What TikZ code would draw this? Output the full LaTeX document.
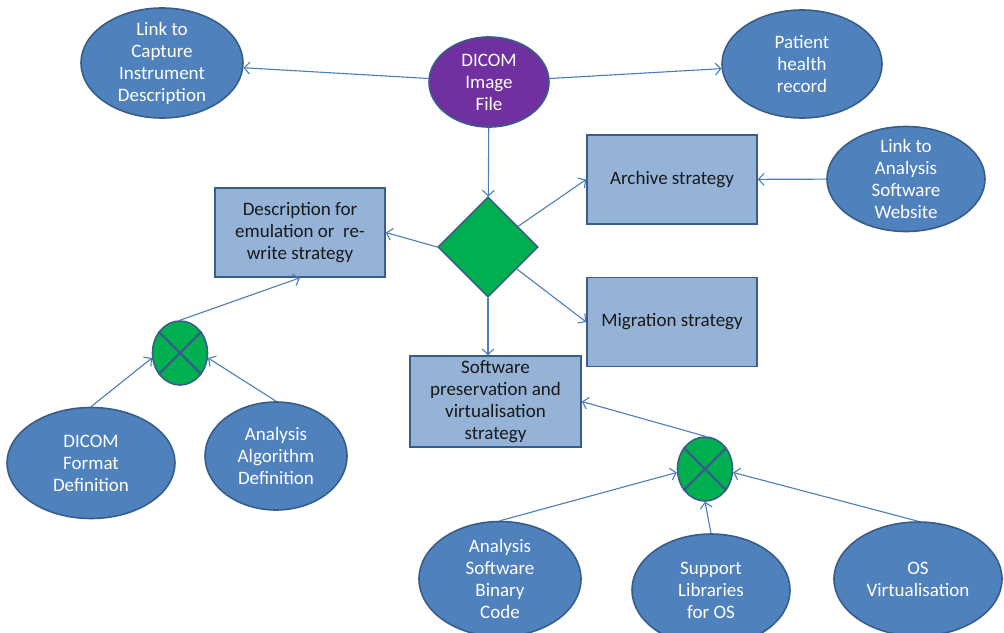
\documentclass[tikz,border=0pt]{standalone}
\usepackage{fontspec}
\setmainfont{Carlito}
\usetikzlibrary{shapes.geometric,arrows.meta}
\definecolor{ovalblue}{HTML}{4F81BD}
\definecolor{edgeblue}{HTML}{385D8A}
\definecolor{boxblue}{HTML}{95B3D7}
\definecolor{linkblue}{HTML}{4A7EBB}
\definecolor{dicompurple}{HTML}{7030A0}
\definecolor{okgreen}{HTML}{00B050}

\begin{document}
\begin{tikzpicture}[x=1pt, y=-1pt,
    oval/.style={draw=edgeblue, line width=1.6pt, fill=ovalblue, ellipse, inner xsep=0pt, inner ysep=-8pt, align=center, text=white, font=\fontsize{19}{22}\selectfont},
    box/.style={draw=edgeblue, line width=1.6pt, fill=boxblue, rectangle, minimum width=170pt, minimum height=89pt, align=center, text=black!90, font=\fontsize{19}{22}\selectfont},
    xcirc/.style={draw=edgeblue, line width=1.6pt, fill=okgreen, ellipse, minimum width=55pt, minimum height=64pt, inner sep=0pt},
    xline/.style={draw=edgeblue, line width=2.4pt},
    arrow/.style={-{Straight Barb[length=5.5pt,width=12pt]}, draw=linkblue, line width=1.1pt}
]
    \useasboundingbox (0,0) rectangle (1004,632);

    % Image file
    \node[oval, fill=dicompurple, minimum width=120pt, minimum height=90pt] (dicom) at (489,82) {DICOM\\Image\\File};

    % Links and records
    \node[oval, minimum width=162pt, minimum height=110pt] (capture) at (162,63) {Link to\\Capture\\Instrument\\Description};
    \node[oval, minimum width=160pt, minimum height=108pt] (patient) at (802,64) {Patient\\health\\record};
    \node[oval, minimum width=158pt, minimum height=105pt] (website) at (906,179) {Link to\\Analysis\\Software\\Website};

    % Decision
    \node[diamond, draw=edgeblue, line width=1.6pt, fill=okgreen, minimum width=100pt, minimum height=100pt, inner sep=0pt] (diam) at (488,247) {};

    % Strategies
    \node[box] (archive) at (672,179.5) {Archive strategy};
    \node[box] (desc) at (300,232.5) {Description for\\emulation or\ \ re-\\write strategy};
    \node[box] (migr) at (672,322) {Migration strategy};
    \node[box, minimum width=171pt, minimum height=91pt] (softw) at (495.5,401.5) {Software\\preservation and\\virtualisation\\strategy};

    % Combinations
    \node[xcirc] (crossL) at (180,353) {};
    \draw[xline] (crossL.45) -- (crossL.225) (crossL.135) -- (crossL.315);
    \node[xcirc] (crossR) at (705,469) {};
    \draw[xline] (crossR.45) -- (crossR.225) (crossR.135) -- (crossR.315);

    % Definitions
    \node[oval, minimum width=168pt, minimum height=111pt] (fmt) at (91,463) {DICOM\\Format\\Definition};
    \node[oval, minimum width=142pt, minimum height=108pt] (algo) at (276,456) {Analysis\\Algorithm\\Definition};

    % Software parts
    \node[oval, minimum width=162pt, minimum height=115pt] (binary) at (500,579) {Analysis\\Software\\Binary\\Code};
    \node[oval, minimum width=158pt, minimum height=112pt] (support) at (711,590) {Support\\Libraries\\for OS};
    \node[oval, minimum width=168pt, minimum height=114pt] (osv) at (918,579) {OS\\Virtualisation};

    % Arrows
    \draw[arrow] (dicom) -- (capture);
    \draw[arrow] (dicom) -- (patient);
    \draw[arrow] (dicom) -- (diam);
    \draw[arrow] (diam.west) -- (desc.east);
    \draw[arrow] (diam) -- (archive.west);
    \draw[arrow] (diam) -- (migr.west);
    \draw[arrow] (diam.south) -- (diam.south |- softw.north);
    \draw[arrow] (website) -- (archive);
    \draw[arrow] (crossL.north) -- (desc.south);
    \draw[arrow] (fmt.north) -- (crossL.190);
    \draw[arrow] (algo.north) -- (crossL.350);
    \draw[arrow] (crossR.north) -- (softw.east);
    \draw[arrow] (binary.north) -- (crossR.187);
    \draw[arrow] (support.north) -- (crossR.south);
    \draw[arrow] (osv.north) -- (crossR.353);

\end{tikzpicture}
\end{document}
